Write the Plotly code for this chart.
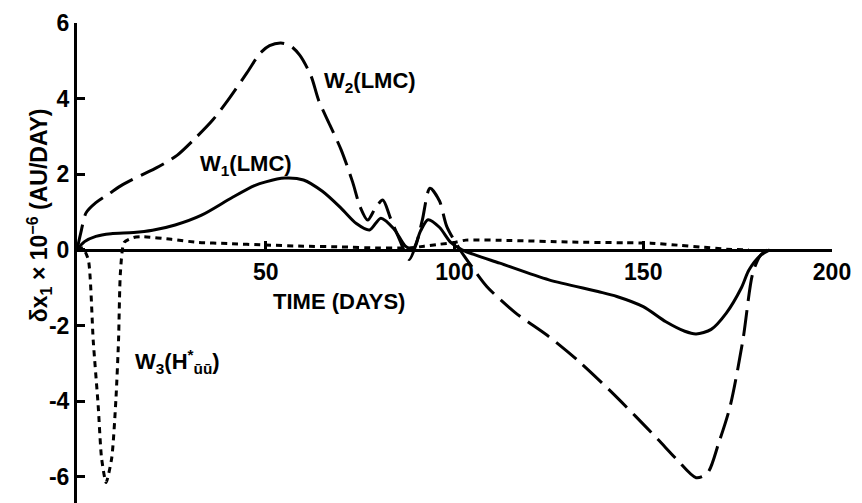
import plotly.graph_objects as go

# ---- data ----
w1_days = [0, 2, 5, 9, 15, 20, 26, 33, 41, 47, 50, 55, 60, 65, 70, 74, 77.5, 80.5, 84, 87, 89, 91, 93, 96,
           99, 102, 106, 112, 125, 138, 143, 150, 156, 161, 164, 168, 172, 176, 178, 181, 183.5]
w1_vals = [0, 0.22, 0.36, 0.43, 0.46, 0.52, 0.66, 0.92, 1.38, 1.7, 1.8, 1.9, 1.85, 1.55, 1.1, 0.7, 0.53, 0.84,
           0.55, 0.1, 0.02, 0.5, 0.8, 0.6, 0.2, 0.0, -0.15, -0.35, -0.79, -1.1, -1.23, -1.5, -1.9, -2.15,
           -2.22, -2.1, -1.67, -1.0, -0.53, -0.15, 0]

w2_days = [0, 1, 2.4, 5, 8.7, 12, 17.5, 21, 26.5, 31, 36, 40, 45, 48.5, 51, 54, 56.5, 59, 62, 64, 67, 70, 73,
           75, 77, 79, 81, 83, 85.5, 88, 90, 91.5, 93.5, 96, 98, 101.5, 105, 108.6, 116, 125, 133, 141, 148,
           154, 159, 164, 167, 170, 173, 176.4, 179, 181, 182.8]
w2_vals = [0, 0.45, 0.98, 1.25, 1.5, 1.72, 2.0, 2.17, 2.5, 2.92, 3.44, 3.96, 4.68, 5.2, 5.4, 5.47, 5.4, 5.15,
           4.6, 3.96, 3.3, 2.64, 1.8, 1.14, 0.79, 1.1, 1.32, 0.85, 0.26, -0.25, 0.2, 0.8, 1.63, 1.3, 0.61,
           0, -0.5, -0.97, -1.65, -2.29, -2.95, -3.7, -4.4, -5.02, -5.55, -6.02, -5.9, -5.1, -4.14, -2.38,
           -0.62, -0.15, 0]

w3_days = [0, 1.5, 3, 4.3, 5.6, 6.5, 7.7, 9.2, 10.3, 11, 11.5, 12.5, 15, 17.5, 25, 32, 40, 50, 60, 70, 80,
           85, 88, 92, 96, 100, 103, 115, 130, 145, 152, 160, 165, 172, 178]
w3_vals = [0, 0.05, -0.26, -2.4, -4.1, -5.5, -6.15, -5.5, -3.97, -2.4, -0.6, 0.2, 0.33, 0.35, 0.28, 0.2,
           0.17, 0.13, 0.1, 0.08, 0.05, 0.05, 0.05, 0.1, 0.15, 0.2, 0.26, 0.25, 0.21, 0.19, 0.18, 0.12,
           0.08, 0.02, 0]

x_ticks = [50, 100, 150, 200]
y_ticks = [-6, -4, -2, 0, 2, 4, 6]

X_RANGE = [0, 200]
Y_RANGE = [-6.69, 6.0]

FONT = "Liberation Sans"

fig = go.Figure()
fig.add_trace(go.Scatter(x=w1_days, y=w1_vals, mode="lines",
                         line=dict(color="black", width=3, shape="spline", smoothing=0.8)))
fig.add_trace(go.Scatter(x=w2_days, y=w2_vals, mode="lines",
                         line=dict(color="black", width=3, shape="spline", smoothing=0.8,
                                   dash="26px,9px")))
fig.add_trace(go.Scatter(x=w3_days, y=w3_vals, mode="lines",
                         line=dict(color="black", width=3, shape="spline", smoothing=0.6,
                                   dash="6px,5px")))

zero_pos = (0 - Y_RANGE[0]) / (Y_RANGE[1] - Y_RANGE[0])

fig.update_layout(
    width=862, height=503,
    margin=dict(l=77, r=30, t=23, b=0),
    paper_bgcolor="white", plot_bgcolor="white",
    showlegend=False,
    font=dict(family=FONT, size=21, color="black"),
    xaxis=dict(range=X_RANGE, tickvals=x_ticks, ticktext=[str(v) for v in x_ticks],
               anchor="free", position=zero_pos,
               showline=True, linecolor="black", linewidth=3,
               ticks="inside", ticklen=8, tickwidth=2.5, tickcolor="black",
               showgrid=False, zeroline=False,
               tickfont=dict(family=FONT, size=23, color="black", weight="bold")),
    yaxis=dict(range=Y_RANGE, tickvals=y_ticks, ticktext=[str(v) for v in y_ticks],
               showline=True, linecolor="black", linewidth=3,
               ticks="inside", ticklen=8, tickwidth=2.5, tickcolor="black",
               showgrid=False, zeroline=False,
               tickfont=dict(family=FONT, size=23, color="black", weight="bold")),
)

ann_font = dict(family=FONT, size=22, color="black", weight="bold")
fig.add_annotation(x=77.6, y=4.44, xref="x", yref="y", showarrow=False,
                   text="W<sub>2</sub>(LMC)", font=ann_font)
fig.add_annotation(x=44.8, y=2.25, xref="x", yref="y", showarrow=False,
                   text="W<sub>1</sub>(LMC)", font=ann_font)
fig.add_annotation(x=26.5, y=-2.95, xref="x", yref="y", showarrow=False,
                   text="W<sub>3</sub>(H<sup>*</sup><sub>ūū</sub>)", font=ann_font)
fig.add_annotation(x=69.4, y=-1.35, xref="x", yref="y", showarrow=False,
                   text="TIME (DAYS)", font=dict(family=FONT, size=22, color="black", weight="bold"))
fig.add_annotation(x=-0.075, y=0.93, xref="paper", yref="y", showarrow=False, textangle=-90,
                   text="δx<sub>1</sub> × 10<sup>−6</sup> (AU/DAY)",
                   font=dict(family=FONT, size=23, color="black", weight="bold"))

fig.write_html("out.html")
